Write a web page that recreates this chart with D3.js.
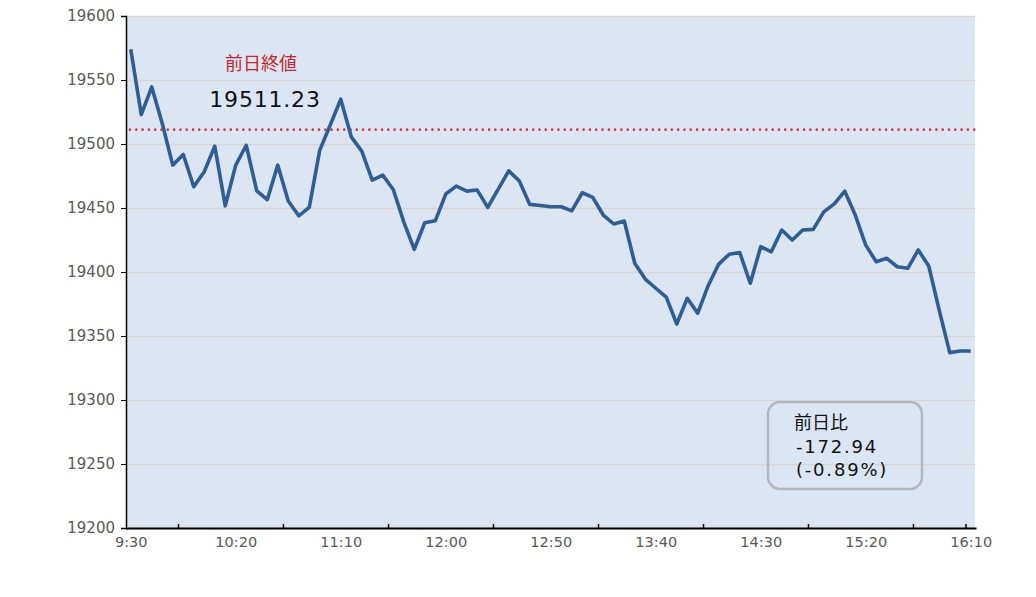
<!DOCTYPE html>
<html>
<head>
<meta charset="utf-8">
<script src="https://cdn.jsdelivr.net/npm/d3@7"></script>
<style>
  body { margin: 0; background: #fff; }
  svg { display: block; font-family: "DejaVu Sans", "Noto Sans CJK JP", sans-serif; }
</style>
</head>
<body>
<svg id="chart" width="1036" height="597"></svg>
<script>
// 5-minute closes, 9:30 .. 16:10
const values = [
  19574, 19523, 19544.6, 19516, 19483.5, 19491.8, 19466.6, 19478.3, 19498.3, 19451.7,
  19483.5, 19499, 19463.4, 19456.5, 19483.5, 19455.5, 19443.9, 19450.5, 19495.2, 19514.8,
  19535, 19505.6, 19494.4, 19471.8, 19475.7, 19464.5, 19439.2, 19417.7, 19438.5, 19440,
  19460.9, 19467.1, 19463.2, 19464, 19450.5, 19464.8, 19479, 19471.2, 19452.8, 19452,
  19451, 19451, 19447.8, 19461.9, 19458.3, 19444.5, 19437.5, 19439.8, 19406.8, 19394.5,
  19387.3, 19380.3, 19359.4, 19379.5, 19367.8, 19389.5, 19406.2, 19413.9, 19415.2, 19391.2,
  19419.8, 19415.8, 19432.8, 19425, 19432.8, 19433.3, 19447, 19453.2, 19463.2, 19444.5,
  19421, 19408, 19410.7, 19404.1, 19402.9, 19417.2, 19404.7, 19370, 19337, 19338.3,
  19338.29
];
const prevClose = 19511.23;
const changeLabel = ["前日比", "-172.94", "(-0.89%)"];

const yTicks = [19200, 19250, 19300, 19350, 19400, 19450, 19500, 19550, 19600];
const xLabelIdx = [0, 10, 20, 30, 40, 50, 60, 70, 80];
const xLabels = ["9:30", "10:20", "11:10", "12:00", "12:50", "13:40", "14:30", "15:20", "16:10"];
const xTickMarks = [4.5, 14.5, 24.5, 34.5, 44.5, 54.5, 64.5, 74.5, 79.5];

const font = '"DejaVu Sans", "Noto Sans CJK JP", sans-serif';
const svg = d3.select("#chart");
const plotL = 126, plotR = 975, plotT = 16, plotB = 528;

const x = d3.scaleLinear().domain([-0.5, values.length - 0.5]).range([plotL - 0.5, plotR + 1]);
const y = d3.scaleLinear().domain([19200, 19600]).range([plotB, plotT]);

// plot background
svg.append("rect")
  .attr("x", plotL).attr("y", plotT)
  .attr("width", plotR - plotL).attr("height", plotB - plotT)
  .attr("fill", "#dce6f2");

// gridlines
svg.append("g")
  .attr("transform", `translate(${plotL},0)`)
  .call(d3.axisLeft(y).tickValues(yTicks).tickSize(-(plotR - plotL)).tickFormat(""))
  .call(g => g.select(".domain").remove())
  .call(g => g.selectAll("line").attr("stroke", "#d9d6d0").attr("stroke-width", 1.3));

// y axis
svg.append("g")
  .attr("transform", `translate(${plotL},0)`)
  .call(d3.axisLeft(y).tickValues(yTicks).tickSize(5).tickPadding(6).tickFormat(d3.format("d")))
  .call(g => g.select(".domain").attr("stroke", "#000").attr("stroke-width", 1.5))
  .call(g => g.selectAll("line").attr("stroke", "#000"))
  .call(g => g.selectAll("text")
    .style("font-family", font).style("font-size", "15px").attr("fill", "#595959"));

// x axis labels
svg.append("g")
  .attr("transform", `translate(0,${plotB})`)
  .call(d3.axisBottom(x).tickValues(xLabelIdx).tickSize(0).tickPadding(9)
    .tickFormat((d, i) => xLabels[i]))
  .call(g => g.select(".domain").attr("stroke", "#000").attr("stroke-width", 2))
  .call(g => g.selectAll("text")
    .style("font-family", font).style("font-size", "14.5px").attr("fill", "#595959"));

// x axis tick marks (inside)
svg.append("g")
  .attr("transform", `translate(0,${plotB})`)
  .call(d3.axisBottom(x).tickValues(xTickMarks).tickSize(-4).tickFormat(""))
  .call(g => g.select(".domain").remove())
  .call(g => g.selectAll("line").attr("stroke", "#000").attr("stroke-width", 1.5));

// previous close reference line
svg.append("line")
  .attr("x1", plotL + 4).attr("x2", plotR)
  .attr("y1", y(prevClose)).attr("y2", y(prevClose))
  .attr("stroke", "#d0393a")
  .attr("stroke-width", 2.6)
  .attr("stroke-linecap", "round")
  .attr("stroke-dasharray", "0 6.3");

// price line
const line = d3.line()
  .x((d, i) => x(i))
  .y(d => y(d));

svg.append("path")
  .datum(values)
  .attr("fill", "none")
  .attr("stroke", "#2f5e94")
  .attr("stroke-width", 3.6)
  .attr("stroke-linejoin", "round")
  .attr("d", line);

// previous close label
svg.append("text")
  .attr("x", 261).attr("y", 70)
  .attr("text-anchor", "middle")
  .attr("font-size", 18)
  .attr("fill", "#c0282d")
  .text("前日終値");

svg.append("text")
  .attr("x", 265).attr("y", 107)
  .attr("text-anchor", "middle")
  .attr("font-size", 22)
  .attr("letter-spacing", 0.8)
  .attr("fill", "#111")
  .text(d3.format(".2f")(prevClose));

// change box
svg.append("rect")
  .attr("x", 768).attr("y", 402)
  .attr("width", 154).attr("height", 87)
  .attr("rx", 12)
  .attr("fill", "none")
  .attr("stroke", "#b3b7bd")
  .attr("stroke-width", 2.5);

svg.append("g")
  .selectAll("text")
  .data(changeLabel)
  .join("text")
  .attr("x", (d, i) => i === 0 ? 794 : 796)
  .attr("y", (d, i) => 429 + i * 23.5)
  .attr("font-size", 18)
  .attr("letter-spacing", (d, i) => i === 0 ? 0 : 1.8)
  .attr("fill", "#111")
  .text(d => d);
</script>
</body>
</html>
